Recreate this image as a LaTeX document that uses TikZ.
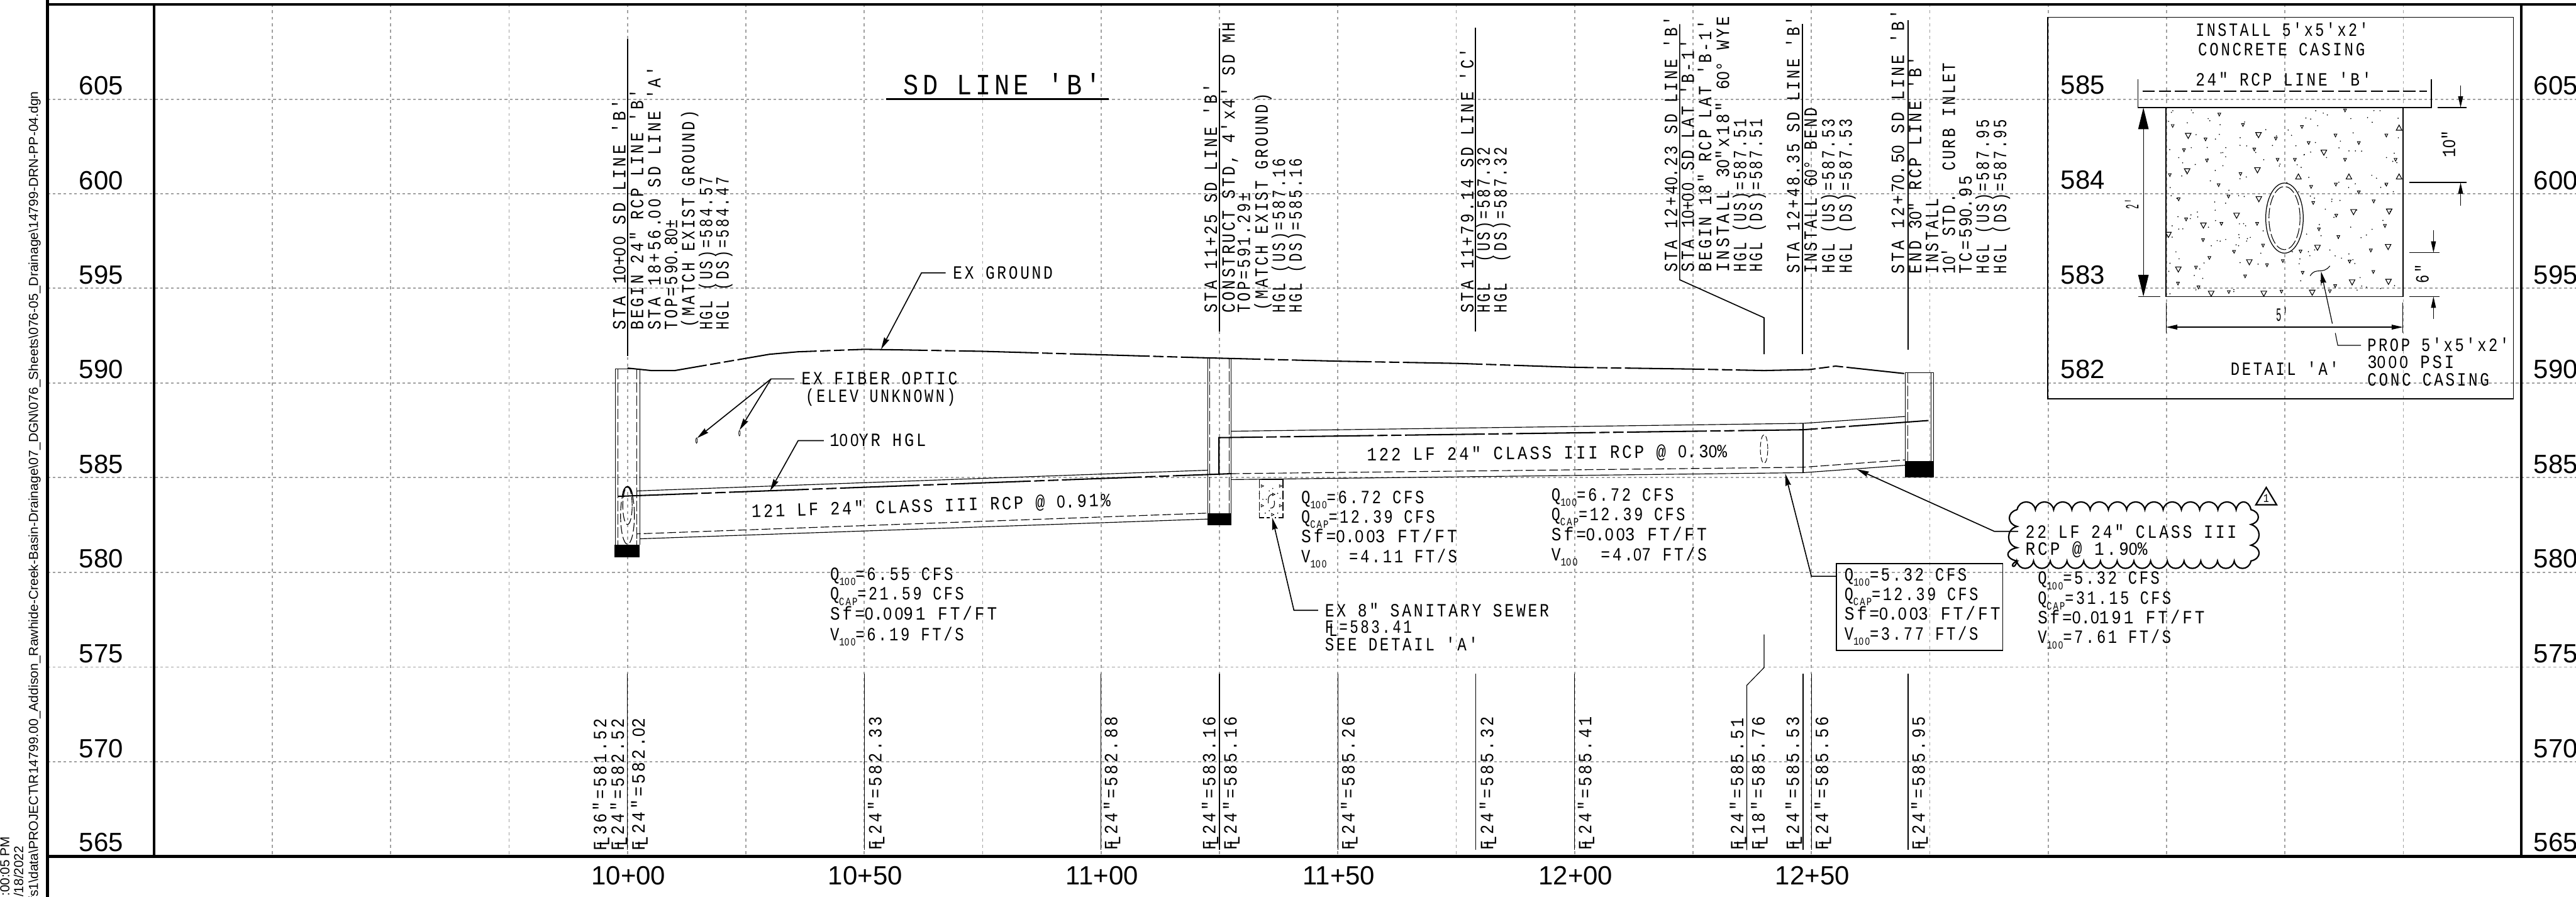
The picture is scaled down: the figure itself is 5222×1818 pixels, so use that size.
\documentclass[tikz,border=0pt]{standalone}
\usepackage{fontspec}
\usepackage{graphicx}
\usetikzlibrary{arrows.meta}
\setmainfont{Liberation Sans}
\newfontfamily\cadfont[FakeStretch=0.8,LetterSpace=12]{Liberation Mono}
\newfontfamily\zfam[FakeStretch=0.82,LetterSpace=14,Scale=0.93]{Liberation Sans}
\XeTeXcharclass`\0=200
\XeTeXinterchartoks 0 200 = {\begingroup\zfam}
\XeTeXinterchartoks 4095 200 = {\begingroup\zfam}
\XeTeXinterchartoks 200 0 = {\endgroup}
\XeTeXinterchartoks 200 4095 = {\endgroup}
\newdimen\pxu \pxu=0.01cm
\definecolor{gridc}{HTML}{A0A0A0}
\newcommand\cadt[2]{\resizebox{#1\pxu}{\height}{\XeTeXinterchartokenstate=1 \cadfont\fontsize{10.8pt}{12pt}\selectfont #2}}
\newcommand\subc[1]{\raisebox{-.28em}{\fontsize{6.4pt}{7pt}\selectfont #1}}
\newcommand\FLs{\rlap{F}\kern.22em\raisebox{-.16em}{L}\kern.1em}
\newcommand\cadv[5]{\node[txt,rotate=90,anchor=base west] (#1) at (#2,#3) {\cadt{#4}{#5}};}
\newcommand\cadh[5]{\node[txt,anchor=base west] (#1) at (#2,#3) {\cadt{#4}{#5}};}
\newcommand\cadr[6]{\node[txt,rotate=#2,anchor=base west] (#1) at (#3,#4) {\cadt{#5}{#6}};}
\tikzset{
  txt/.style={inner sep=0pt,outer sep=0pt,text=black},
  glab/.style={inner sep=0pt,outer sep=0pt,anchor=base,font=\fontsize{15.2pt}{16pt}\selectfont},
  side/.style={inner sep=0pt,outer sep=0pt,rotate=90,anchor=base east,font=\fontsize{7.5pt}{8pt}\selectfont},
  frame/.style={line width=1.6pt,black},
  hgrid/.style={gridc,line width=0.62pt,dash pattern=on 1.6pt off 1.5pt},
  vgrid/.style={gridc,line width=0.62pt,dash pattern=on 1.7pt off 2pt},
  thinl/.style={line width=0.42pt,black},
  medl/.style={line width=0.6pt,black},
  ground/.style={line width=0.75pt,black,dash pattern=on 46pt off 2pt on 6pt off 2pt on 6pt off 2pt},
  invd/.style={line width=0.42pt,black,dash pattern=on 5pt off 1.8pt},
  mhd/.style={line width=0.42pt,black,dash pattern=on 6pt off 1.6pt},
  ldr/.style={medl,-{Stealth[length=7pt,width=3.2pt,inset=0.6pt]}},
  dimar/.style={line width=0.45pt,black,-{Triangle[length=6.5pt,width=2.8pt]}},
  bigar/.style={line width=0.45pt,black,{Triangle[length=12.5pt,width=6pt]}-{Triangle[length=12.5pt,width=6pt]}},
}
\begin{document}
\begin{tikzpicture}[x=0.01cm,y=-0.01cm]
\useasboundingbox (0,0) rectangle (5222,1818);
\clip (0,0) rectangle (5222,1818);
% ---------- grid
\foreach \yy in {201,393,584,776,968,1160,1352,1544}
  \draw[hgrid] (96,\yy) -- (5222,\yy);
\foreach \xx in {552,792,1032,1272,1512,1752,1992,2232,2472,2712,2952,3192,3432,3672,3912,4152,4392,4632,4872}
  \draw[vgrid] (\xx,8) -- (\xx,1736);
% ---------- frame
\draw[frame] (96,9) -- (5222,9);
\draw[frame] (96,0) -- (96,1818);
\draw[frame] (96,1736) -- (5222,1736);
\draw[line width=1.6pt] (312,9) -- (312,1736);
\draw[line width=1.6pt] (5111,9) -- (5111,1736);
% ---------- elevation labels
\foreach \yy/\lb in {192/605,384/600,575/595,767/590,959/585,1151/580,1343/575,1535/570,1726/565}{
  \node[glab] (l\lb) at (205,\yy) {\lb};
  \node[glab] (r\lb) at (5181,\yy) {\lb};
}
\foreach \xx/\lb in {1274/10+00,1754/10+50,2234/11+00,2714/11+50,3194/12+00,3674/12+50}
  \node[glab] (st\lb) at (\xx,1793) {\lb};
% ---------- side text
\node[side] (sidea) at (77,185) {\resizebox{1640\pxu}{\height}{fs1\textbackslash data\textbackslash PROJECT\textbackslash R14799.00\_Addison\_Rawhide-Creek-Basin-Drainage\textbackslash 07\_DGN\textbackslash 076\_Sheets\textbackslash 076-05\_Drainage\textbackslash 14799-DRN-PP-04.dgn}};
\node[side] (sideb) at (47,1715) {/18/2022};
\node[side] (sidec) at (19,1696) {:00:05 PM};
% ---------- ground
\draw[ground] (1272,746) -- (1320,751) -- (1368,751) -- (1560,718) -- (1617,713) -- (1752,708) -- (1819,709) -- (1991,712) -- (2232,719) -- (2436,725) -- (2712,732) -- (2954,736.5) -- (3191,744.5) -- (3431,748) -- (3576,751) -- (3668,749) -- (3721,742) -- (3860,757);
% ---------- manholes
\draw[thinl] (1247,1104) -- (1247,748) -- (1297,748) -- (1297,1104);
\draw[mhd] (1253,748) -- (1253,1104);
\draw[mhd] (1291,748) -- (1291,1104);
\fill[black] (1246,1104) rectangle (1297,1129);
\draw[thinl] (2448,1040) -- (2448,726) -- (2496,726) -- (2496,1040);
\draw[mhd] (2452,726) -- (2452,1040);
\draw[mhd] (2492,726) -- (2492,1040);
\fill[black] (2448,1040) rectangle (2496,1065);
\draw[thinl] (3862,934) -- (3862,755) -- (3920,755) -- (3920,934);
\draw[mhd] (3867,755) -- (3867,934);
\draw[thinl] (3915,755) -- (3915,934);
\fill[black] (3862,934) rectangle (3920,967);
% pipe opening at 10+00
\draw[invd] (1272,1045) ellipse [x radius=0.14cm,y radius=0.58cm];
\draw[invd] (1272,1025) ellipse [x radius=0.095cm,y radius=0.38cm];
\draw[medl] (1262,1004) .. controls (1265,980) and (1279,980) .. (1282,1004);
% ---------- pipes
\draw[thinl] (1291,1006) -- (1291,995) -- (2448,953);
\draw[ground] (1253,1006) -- (2497,960);
\draw[invd] (1291,1092) -- (1291,1082) -- (2448,1040);
\draw[thinl] (1297,1092) -- (2448,1052);
\draw[thinl] (2495,874) -- (3655,858) -- (3863,844);
\draw[ground] (2471,960) -- (2471,887) -- (3655,871) -- (3913,852);
\draw[invd] (2495,960) -- (3655,947) -- (3862,932);
\draw[thinl] (2495,972) -- (3655,958) -- (3862,943);
\draw[thinl] (3655,858) -- (3655,958);
\draw[line width=0.35pt,dash pattern=on 3pt off 1.5pt] (3576,910) ellipse [x radius=0.075cm,y radius=0.29cm];
% ---------- station leaders (top)
\draw[medl] (1272,79) -- (1272,722);
\draw[medl] (2472,57) -- (2472,672);
\draw[medl] (2991,56) -- (2991,672);
\draw[medl] (3405,49) -- (3405,567) -- (3576,644) -- (3576,718);
\draw[medl] (3654,49) -- (3654,718);
\draw[medl] (3868,41) -- (3868,709);
% ---------- station leaders (bottom)
\foreach \xx in {1272,1752,2232,2472,2712,2991,3192,3655,3672,3868}
  \draw[thinl] (\xx,1365) -- (\xx,1723);
\draw[thinl] (3576,1286) -- (3576,1353) -- (3541,1389) -- (3541,1723);
% ---------- top notes
\cadv{a1}{1268}{669}{468}{STA 10+00 SD LINE 'B'}
\cadv{a2}{1304}{669}{488}{BEGIN 24" RCP LINE 'B'}
\cadv{a3}{1339}{669}{534}{STA 18+56.00 SD LINE 'A'}
\cadv{a4}{1373}{669}{224}{TOP=590.80±}
\cadv{a5}{1408}{663}{439}{(MATCH EXIST GROUND)}
\cadv{a6}{1444}{669}{310}{HGL (US)=584.57}
\cadv{a7}{1477}{669}{310}{HGL (DS)=584.47}
\cadv{b1}{2467}{634}{465}{STA 11+25 SD LINE 'B'}
\cadv{b2}{2503}{634}{589}{CONSTRUCT STD, 4'x4' SD MH}
\cadv{b3}{2534}{634}{244}{TOP=591.29±}
\cadv{b4}{2570}{629}{440}{(MATCH EXIST GROUND)}
\cadv{b5}{2605}{634}{313}{HGL (US)=587.16}
\cadv{b6}{2639}{634}{313}{HGL (DS)=585.16}
\cadv{c1}{2987}{634}{536}{STA 11+79.14 SD LINE 'C'}
\cadv{c2}{3020}{634}{336}{HGL \ (US)=587.32}
\cadv{c3}{3054}{634}{336}{HGL \ (DS)=587.32}
\cadv{d1}{3400}{551}{518}{STA 12+40.23 SD LINE 'B'}
\cadv{d2}{3434}{551}{471}{STA 10+00 SD LAT 'B-1'}
\cadv{d3}{3469}{551}{511}{BEGIN 18" RCP LAT 'B-1'}
\cadv{d4}{3505}{551}{518}{INSTALL 30"x18" 60° WYE}
\cadv{d5}{3540}{551}{310}{HGL (US)=587.51}
\cadv{d6}{3572}{551}{310}{HGL (DS)=587.51}
\cadv{e1}{3648}{554}{521}{STA 12+48.35 SD LINE 'B'}
\cadv{e2}{3683}{554}{336}{INSTALL 60° BEND}
\cadv{e3}{3719}{554}{313}{HGL (US)=587.53}
\cadv{e4}{3754}{554}{313}{HGL (DS)=587.53}
\cadv{f1}{3860}{555}{535}{STA 12+70.50 SD LINE 'B'}
\cadv{f2}{3895}{555}{441}{END 30" RCP LINE 'B'}
\cadv{f3}{3929}{555}{153}{INSTALL}
\cadv{f4}{3963}{555}{428}{10' STD. \ CURB INLET}
\cadv{f5}{3997}{555}{199}{TC=590.95}
\cadv{f6}{4032}{555}{313}{HGL (US)=587.95}
\cadv{f7}{4067}{555}{313}{HGL (DS)=587.95}
% ---------- bottom notes
\cadv{g1}{1229}{1724}{268}{\FLs 36"=581.52}
\cadv{g2}{1265}{1724}{268}{\FLs 24"=582.52}
\cadv{g3}{1307}{1724}{268}{\FLs 24"=582.02}
\cadv{g4}{1787}{1723}{270}{\FLs 24"=582.33}
\cadv{g5}{2265}{1723}{270}{\FLs 24"=582.88}
\cadv{g6}{2464}{1723}{270}{\FLs 24"=583.16}
\cadv{g7}{2507}{1723}{270}{\FLs 24"=585.16}
\cadv{g8}{2746}{1723}{270}{\FLs 24"=585.26}
\cadv{g9}{3027}{1723}{270}{\FLs 24"=585.32}
\cadv{g10}{3226}{1723}{270}{\FLs 24"=585.41}
\cadv{g11}{3534}{1723}{268}{\FLs 24"=585.51}
\cadv{g12}{3577}{1723}{270}{\FLs 18"=585.76}
\cadv{g13}{3647}{1723}{270}{\FLs 24"=585.53}
\cadv{g14}{3706}{1723}{270}{\FLs 24"=585.56}
\cadv{g15}{3902}{1723}{270}{\FLs 24"=585.95}
% ---------- title
\node[txt,anchor=base west] (title) at (1832,192) {\resizebox{400\pxu}{\height}{\cadfont\fontsize{17pt}{19pt}\selectfont SD LINE 'B'}};
\draw[line width=1pt] (1796,201) -- (2247,201);
% ---------- callouts
\cadh{exg}{1932}{565}{202}{EX GROUND}
\draw[ldr] (1917,553) -- (1868,553) -- (1786,708);
\cadh{fo1}{1625}{780}{316}{EX FIBER OPTIC}
\cadh{fo2}{1633}{815}{304}{(ELEV UNKNOWN)}
\draw[ldr] (1610,768) -- (1563,768) -- (1413,888);
\draw[ldr] (1563,768) -- (1499,872);
\draw[line width=0.3pt] (1412,893) ellipse [x radius=0.015cm,y radius=0.055cm];
\draw[line width=0.3pt] (1499,878) ellipse [x radius=0.015cm,y radius=0.055cm];
\cadh{hgl}{1682}{905}{195}{100YR HGL}
\draw[ldr] (1670,893) -- (1618,893) -- (1561,995);
\cadr{p1}{1.8}{1524}{1049}{728}{121 LF 24" CLASS III RCP @ 0.91\%}
\cadr{p2}{0.55}{2771}{934}{730}{122 LF 24" CLASS III RCP @ 0.30\%}
% ---------- hydraulic tables
\cadh{q1a}{1683}{1176}{249}{Q\subc{100}=6.55 CFS}
\cadh{q1b}{1683}{1216}{271}{Q\subc{CAP}=21.59 CFS}
\cadh{q1c}{1683}{1257}{338}{Sf=0.0091 FT/FT}
\cadh{q1d}{1683}{1298}{271}{V\subc{100}=6.19 FT/S}
\cadh{q2a}{2638}{1020}{249}{Q\subc{100}=6.72 CFS}
\cadh{q2b}{2638}{1060}{271}{Q\subc{CAP}=12.39 CFS}
\cadh{q2c}{2638}{1100}{316}{Sf=0.003 FT/FT}
\cadh{q2d}{2638}{1140}{316}{V\subc{100}\ \ =4.11 FT/S}
\cadh{q3a}{3145}{1015}{248}{Q\subc{100}=6.72 CFS}
\cadh{q3b}{3145}{1055}{271}{Q\subc{CAP}=12.39 CFS}
\cadh{q3c}{3145}{1096}{315}{Sf=0.003 FT/FT}
\cadh{q3d}{3145}{1136}{315}{V\subc{100}\ \ =4.07 FT/S}
\draw[medl] (3723,1142) rectangle (4060,1318);
\cadh{q4a}{3739}{1177}{248}{Q\subc{100}=5.32 CFS}
\cadh{q4b}{3739}{1217}{271}{Q\subc{CAP}=12.39 CFS}
\cadh{q4c}{3739}{1257}{316}{Sf=0.003 FT/FT}
\cadh{q4d}{3739}{1297}{271}{V\subc{100}=3.77 FT/S}
\draw[ldr] (3723,1168) -- (3672,1168) -- (3619,960);
\cadh{q5a}{4131}{1184}{247}{Q\subc{100}=5.32 CFS}
\cadh{q5b}{4131}{1225}{270}{Q\subc{CAP}=31.15 CFS}
\cadh{q5c}{4131}{1264}{338}{Sf=0.0191 FT/FT}
\cadh{q5d}{4131}{1304}{270}{V\subc{100}=7.61 FT/S}
% ---------- sanitary sewer
\draw[thinl] (2553,972) -- (2601,972);
\draw[line width=0.5pt,dash pattern=on 5pt off 1.5pt] (2553,972) -- (2553,1049) -- (2574,1049);
\draw[line width=0.5pt,dash pattern=on 5pt off 1.5pt] (2601,972) -- (2601,1049) -- (2584,1049);
\foreach \a/\b in {2559/985,2596/985,2559/1025,2596/1025,2580/1043,2582/1002}
  \draw[line width=0.3pt] (\a-2.5,\b-2.5) -- (\a+2.5,\b) -- (\a-2.5,\b+2.5) -- cycle;
\foreach \a/\b in {2573/995,2590/1000,2553/1000,2567/1012,2573/1035,2590/1040,2553/1040,2565/1040,2580/990,2595/1010,2560/1012}
  \fill (\a,\b) circle (0.35pt);
\draw[line width=0.4pt] (2571,1020) .. controls (2570,1005) and (2574,1002) .. (2581,1002);
\draw[line width=0.4pt] (2583,1015) .. controls (2585,1025) and (2582,1030) .. (2575,1030);
\draw[ldr] (2672,1237) -- (2623,1237) -- (2579,1049);
\cadh{ss1}{2686}{1250}{454}{EX 8" SANITARY SEWER}
\cadh{ss2}{2686}{1283}{176}{\FLs =583.41}
\cadh{ss3}{2686}{1319}{310}{SEE DETAIL 'A'}
% ---------- cloud
\draw[ldr] (4091,1077) -- (4043,1077) -- (3764,951);
\draw[line width=0.8pt] (4089,1033)
  foreach \i in {0,...,11} { .. controls (4089+\i*37+4,1012) and (4089+\i*37+33,1012) .. (4089+\i*37+37,1033) }
  .. controls (4537,1012) and (4559,1012) .. (4563,1033)
  .. controls (4583,1038) and (4583,1058) .. (4563,1063)
  .. controls (4585,1070) and (4585,1098) .. (4563,1105)
  .. controls (4585,1110) and (4585,1132) .. (4563,1137)
  foreach \i in {0,...,13} { .. controls (4563-\i*33.9-4,1157) and (4563-\i*33.9-30,1157) .. (4563-\i*33.9-33.9,1137) }
  .. controls (4085,1157) and (4070,1145) .. (4089,1137)
  .. controls (4064,1132) and (4064,1115) .. (4089,1110)
  .. controls (4066,1105) and (4066,1072) .. (4089,1067)
  .. controls (4068,1062) and (4068,1038) .. (4089,1033);
\cadh{cl1}{4106}{1091}{428}{22 LF 24" CLASS III}
\cadh{cl2}{4106}{1125}{247}{RCP @ 1.90\%}
\draw[line width=0.8pt] (4594,988) -- (4573,1023) -- (4615,1023) -- cycle;
\node[txt,anchor=base] (delta) at (4594,1018) {\cadfont\fontsize{6.8pt}{7pt}\selectfont 1};
% ---------- detail A
\draw[medl] (4151,35) rectangle (5095,808);
\foreach \yy/\lb in {191/585,383/584,575/583,767/582}
  \node[glab] (dl\lb) at (4222,\yy) {\lb};
\cadh{da1}{4451}{73}{350}{INSTALL 5'x5'x2'}
\cadh{da2}{4456}{113}{338}{CONCRETE CASING}
\cadh{da3}{4451}{174}{356}{24" RCP LINE 'B'}
\draw[medl] (4334,160) -- (4334,218) -- (4929,218) -- (4929,160);
\draw[line width=1pt,dash pattern=on 7pt off 2.4pt] (4343,185) -- (4920,185);
\draw[medl] (4391,218) -- (4391,601) -- (4871,601) -- (4871,218);
% aggregate
\begin{scope}[shift={(4100,0)},x=0.007158cm,y=-0.00523cm]
\foreach \a/\b in {469/525,668/522,853/590,466/662,665/658,669/770,606/834,937/820,1038/818,512/872,835/958,1035/955,441/1042,642/1014,933/1092,1036/1090,534/1136,683/1136,820/1132,413/908}
  \draw[line width=0.4pt] (\a-8,\b-9) -- (\a+8,\b-9) -- (\a,\b+11) -- cycle;
\foreach \a/\b in {781/684,924/684,1066/684,1066/495}
  \draw[line width=0.4pt] (\a-8,\b+9) -- (\a+8,\b+9) -- (\a,\b-11) -- cycle;
\foreach \a/\b in {557/443,425/487,624/483,791/491,886/524,1030/524,518/539,717/536,810/553,952/553,457/581,656/578,522/621,722/618,771/618,913/618,1056/618,417/677,617/673,817/723,887/714,1030/714,555/716,952/744,442/771,583/760,823/785,994/779,888/834,463/849,563/866,664/866,839/887,1026/874,894/917,511/929,681/950,599/974,787/973,986/969,529/998,737/1010,926/1012,491/1035,692/1026,993/1052,793/1055,630/1069,440/1097,498/1112,885/1107,584/1130,733/1128,870/1127,913/427}
  \draw[line width=0.35pt] (\a-4,\b-5) -- (\a+4,\b-5) -- (\a,\b+6) -- cycle;
\end{scope}
\pgfmathsetseed{11}
\foreach \i in {1,...,190}{
  \pgfmathsetmacro\aa{4396+rnd*470}
  \pgfmathsetmacro\bb{222+rnd*375}
  \fill (\aa,\bb) circle (0.35pt);
}
\draw[white,fill=white] (4631,442) ellipse [x radius=0.36cm,y radius=0.69cm];
\draw[line width=0.45pt] (4631,442) ellipse [x radius=0.38cm,y radius=0.71cm];
\draw[line width=0.4pt,dash pattern=on 6pt off 1.6pt] (4631,442) ellipse [x radius=0.315cm,y radius=0.64cm];
% dimensions
\draw[bigar] (4345,218) -- (4345,601);
\draw[medl] (4334,601) -- (4379,601);
\node[txt,rotate=90,anchor=base] (dim2) at (4335,413) {\cadt{21}{2'}};
\draw[dimar,{Triangle[length=6.5pt,width=2.8pt]}-{Triangle[length=6.5pt,width=2.8pt]}] (4391,663) -- (4871,663);
\draw[thinl] (4391,613) -- (4391,675);
\draw[thinl] (4871,613) -- (4871,675);
\node[txt,anchor=base] (dim5) at (4626,651) {\cadt{24}{5'}};
\draw[medl] (4941,218) -- (5000,218);
\draw[medl] (4884,370) -- (5000,370);
\draw[dimar] (4988,173) -- (4988,218);
\draw[dimar] (4988,417) -- (4988,370);
\node[txt,rotate=90,anchor=base west] (dim10) at (4977,319) {\cadt{55}{10"}};
\draw[medl] (4884,512) -- (4945,512);
\draw[medl] (4884,601) -- (4945,601);
\draw[dimar] (4933,466) -- (4933,512);
\draw[dimar] (4933,647) -- (4933,601);
\node[txt,rotate=90,anchor=base west] (dim6) at (4923,574) {\cadt{38}{6"}};
% prop leader
\draw[line width=0.4pt] (4683,559) .. controls (4695,540) and (4708,558) .. (4723,539);
\draw[ldr,line width=0.45pt] (4728,656) -- (4705,550);
\draw[thinl] (4786,700) -- (4739,700) -- (4734,675);
\cadh{dp1}{4799}{712}{287}{PROP 5'x5'x2'}
\cadh{dp2}{4799}{747}{176}{3000 PSI}
\cadh{dp3}{4799}{782}{247}{CONC CASING}
\cadh{dd}{4522}{761}{219}{DETAIL 'A'}
\end{tikzpicture}
\end{document}
